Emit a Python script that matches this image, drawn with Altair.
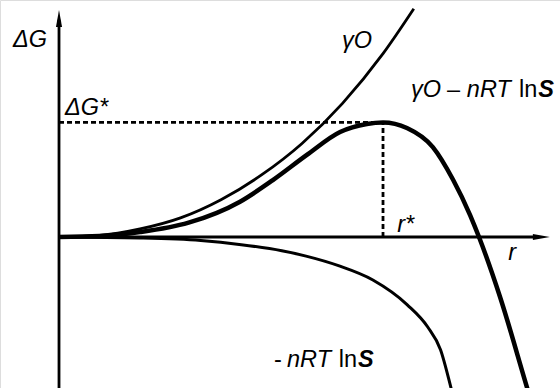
import altair as alt
import pandas as pd

# --- free-energy curves (arbitrary units, read along r) ---
r_surface = [0, 1.0, 2.0, 3.0, 4.0, 5.0, 6.0, 7.0, 8.0, 8.76]
g_surface = [0, 0.08, 0.42, 1.0, 1.95, 3.25, 4.9, 7.0, 9.6, 11.95]

r_bulk = [0, 2.0, 3.5, 4.5, 5.5, 6.1, 6.9, 7.75, 8.6, 9.1, 9.42, 9.68, 9.75]
g_bulk = [0, -0.05, -0.18, -0.4, -0.72, -1.0, -1.5, -2.25, -3.55, -4.7, -5.9, -7.91, -8.5]

r_total = [0, 1.0, 2.0, 3.2, 4.47, 5.28, 6.12, 6.94, 7.6, 8.0, 8.59, 9.23, 9.73, 10.15, 10.37, 10.89, 11.56, 11.7]
g_total = [0, 0.05, 0.26, 0.75, 1.85, 2.98, 4.3, 5.5, 5.92, 6.0, 5.71, 4.71, 3.0, 1.15, 0, -3.14, -7.91, -8.9]

# critical nucleus: top of the barrier
r_star = 8.0
dG_star = 6.0

# visible window of the diagram
R_MIN, R_MAX = -1.457, 12.37
G_MIN, G_MAX = -7.906, 12.41
W, H = 560, 388

R_TIP = 12.12    # end of the r arrow
G_TIP = 11.88    # end of the ΔG arrow
HEAD = 17        # arrowhead length, px
PX_R = W / (R_MAX - R_MIN)
PX_G = H / (G_MAX - G_MIN)

FONT = "Liberation Sans"
FS = 23.5

# label pieces: text, style, left edge (r), baseline (ΔG)
label_text = ["ΔG", "ΔG*", "γO",
              "γO", "–", "nRT", "ln", "S",
              "r*", "r",
              "-", "nRT", "ln", "S"]
label_style = ["it", "it", "it",
               "it", "up", "it", "up", "bi",
               "it", "it",
               "up", "it", "up", "bi"]
label_r = [-1.136, 0.148, 6.99,
           8.69, 9.58, 10.07, 11.36, 11.83,
           8.35, 11.09,
           5.31, 5.63, 6.91, 7.38]
label_g = [9.95, 6.39, 9.9,
           7.33, 7.33, 7.33, 7.33, 7.33,
           0.26, -1.2,
           -6.81, -6.81, -6.81, -6.81]
text_df = pd.DataFrame({"r": label_r, "G": label_g, "text": label_text, "style": label_style})

curves = pd.concat([
    pd.DataFrame({"r": r_surface, "G": g_surface, "curve": "surface"}),
    pd.DataFrame({"r": r_bulk, "G": g_bulk, "curve": "bulk"}),
    pd.DataFrame({"r": r_total, "G": g_total, "curve": "total"}),
])

xs = alt.Scale(domain=[R_MIN, R_MAX], nice=False, zero=False)
ys = alt.Scale(domain=[G_MIN, G_MAX], nice=False, zero=False)
X = lambda f="r": alt.X(f"{f}:Q", scale=xs, axis=None)
Y = lambda f="G": alt.Y(f"{f}:Q", scale=ys, axis=None)

base = alt.Chart(curves)

def curve(name, width):
    return base.transform_filter(alt.datum.curve == name).mark_line(
        color="black", strokeWidth=width, interpolate="monotone", clip=True
    ).encode(x=X(), y=Y())

# axes with arrowheads
axes_df = pd.DataFrame({
    "r": [0, 0], "r2": [0, R_TIP - 0.3],
    "G": [G_MIN, 0], "G2": [G_TIP - 0.5, 0],
})
axes = alt.Chart(axes_df).mark_rule(color="black", strokeWidth=2.8).encode(
    x=X(), x2="r2:Q", y=Y(), y2="G2:Q"
)
head_up = alt.Chart(pd.DataFrame({"r": [0], "G": [G_TIP - HEAD / 2 / PX_G]})).mark_point(
    shape="M0,-1L0.36,1L-0.36,1Z", size=HEAD ** 2, filled=True, color="black", opacity=1
).encode(x=X(), y=Y())
head_right = alt.Chart(pd.DataFrame({"r": [R_TIP - HEAD / 2 / PX_R], "G": [0]})).mark_point(
    shape="M1,0L-1,0.36L-1,-0.36Z", size=HEAD ** 2, filled=True, color="black", opacity=1
).encode(x=X(), y=Y())

# guides to the barrier top
guide_df = pd.DataFrame({"r": [0, r_star], "r2": [r_star, r_star],
                         "G": [dG_star, 0], "G2": [dG_star, dG_star]})
guides = alt.Chart(guide_df).mark_rule(
    color="black", strokeWidth=2.8, strokeDash=[5, 3]
).encode(x=X(), x2="r2:Q", y=Y(), y2="G2:Q")

def text_layer(style, **kw):
    return alt.Chart(text_df).transform_filter(alt.datum.style == style).mark_text(
        font=FONT, fontSize=FS, align="left", baseline="alphabetic", color="black", **kw
    ).encode(x=X(), y=Y(), text="text:N")

chart = alt.layer(
    axes, head_up, head_right, guides,
    curve("surface", 2.8), curve("bulk", 3), curve("total", 4.5),
    text_layer("it", fontStyle="italic"),
    text_layer("up"),
    text_layer("bi", fontStyle="italic", fontWeight="bold"),
).properties(
    width=W, height=H, autosize=alt.AutoSizeParams(type="none"), padding=0
).configure_view(stroke=None).configure(background="white")

chart.save("out.html", embed_options={"renderer": "svg", "actions": False})
